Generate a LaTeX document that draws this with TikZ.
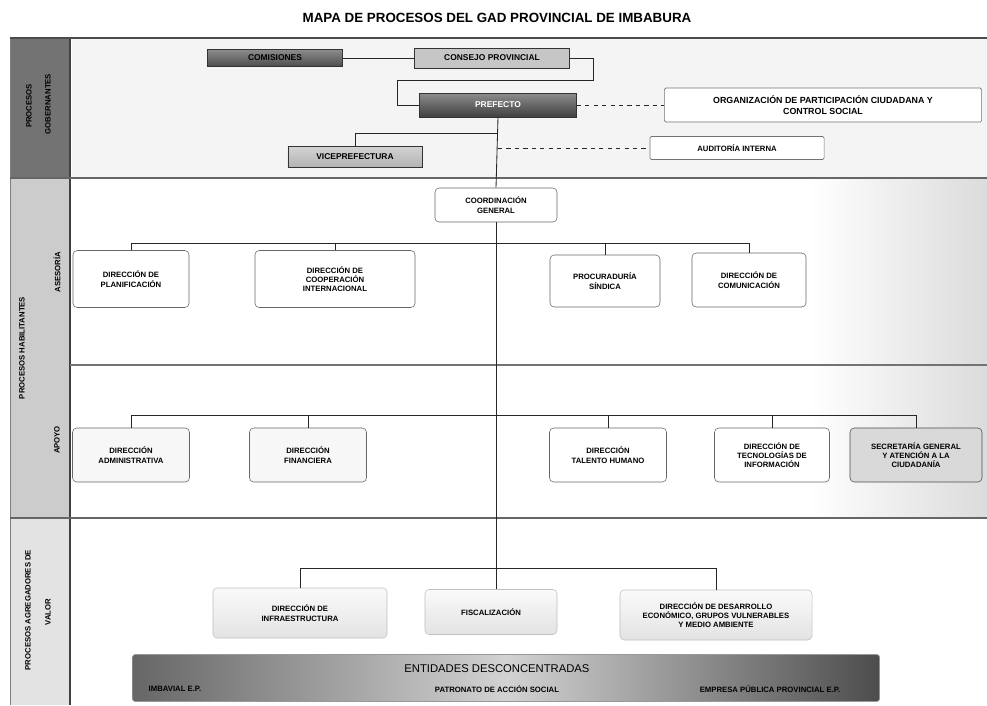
\documentclass[tikz,border=0pt]{standalone}
\usepackage{fontspec}
\setmainfont{Liberation Sans}

\tikzset{
  dirbox/.style={draw=black!60, rounded corners=3pt, fill=white, align=center,
    font=\bfseries\fontsize{5.5}{6.6}\selectfont, inner sep=2pt},
  agrbox/.style={dirbox, draw=black!25, top color=gray!4, bottom color=gray!22},
  govbox/.style={draw=black!80, align=center, font=\bfseries\fontsize{6}{7}\selectfont, inner sep=1pt},
  sidelbl/.style={rotate=90, font=\bfseries\fontsize{5.5}{6.5}\selectfont},
  link/.style={draw=black!85, line width=0.6pt},
}

\begin{document}
\begin{tikzpicture}[x=0.025cm,y=-0.025cm]
\useasboundingbox (0,0) rectangle (987,705);

% fondos
\fill[gray!9] (72,38) rectangle (987,178);
\shade[left color=white,right color=gray!28] (810,178) rectangle (987,518);
\fill[black!55] (10,38) rectangle (70,178);
\fill[gray!40] (10,178) rectangle (70,518);
\fill[gray!22] (10,518) rectangle (70,705);
\draw[line width=1.2pt,black!75] (70,38) -- (70,705);
\draw[black!50] (10,38) -- (10,705);
\draw[line width=1pt,black!70] (10,38) -- (987,38);
\draw[line width=0.8pt,black!60] (10,178) -- (987,178);
\draw[line width=0.8pt,black!55] (70,365) -- (987,365);
\draw[line width=0.8pt,black!60] (10,518) -- (987,518);

\node[font=\bfseries\fontsize{9.5}{11}\selectfont] (titulo) at (497,18) {MAPA DE PROCESOS DEL GAD PROVINCIAL DE IMBABURA};

% etiquetas laterales
\node[sidelbl] (gob1) at (29,106) {PROCESOS};
\node[sidelbl] (gob2) at (48,104) {GOBERNANTES};
\node[sidelbl] (hab) at (22,348) {PROCESOS HABILITANTES};
\node[sidelbl] (ases) at (57,272) {ASESORÍA};
\node[sidelbl] (apoyo) at (57,440) {APOYO};
\node[sidelbl] (agr1) at (28,610) {PROCESOS AGREGADORES DE};
\node[sidelbl] (agr2) at (48,612) {VALOR};

% gobernantes
\node[govbox, top color=black!45, bottom color=black!70, minimum width=3.375cm, minimum height=0.425cm] (comisiones) at (275,58) {COMISIONES};
\node[govbox, fill=gray!45, minimum width=3.875cm, minimum height=0.5cm] (consejo) at (492,58) {CONSEJO PROVINCIAL};
\node[govbox, top color=black!45, bottom color=black!75, text=white, minimum width=3.925cm, minimum height=0.6cm] (prefecto) at (498,105) {PREFECTO};
\node[govbox, top color=gray!35, bottom color=gray!60, minimum width=3.35cm, minimum height=0.525cm] (vice) at (355,157) {VICEPREFECTURA};
\node[dirbox, draw=black!55, rounded corners=1pt, font=\bfseries\fontsize{6.3}{7.4}\selectfont, minimum width=7.925cm, minimum height=0.85cm] (org) at (823,105) {ORGANIZACIÓN DE PARTICIPACIÓN CIUDADANA Y\\CONTROL SOCIAL};
\node[dirbox, draw=black!55, rounded corners=1pt, minimum width=4.35cm, minimum height=0.575cm] (auditoria) at (737,148) {AUDITORÍA INTERNA};

\coordinate (loopR) at (593,80);
\coordinate (loopL) at (397,80);
\coordinate (tv) at (498,133);
\coordinate (ta) at (498,148);
\draw[link] (comisiones) -- (consejo);
\draw[link] (consejo.east) -| (loopR) -- (loopL) |- (prefecto.west);
\draw[link] (tv) -| (vice.north);
\draw[link, dashed] (prefecto.east) -- (org.west);
\draw[link, dashed] (ta) -- (auditoria.west);

% habilitantes
\node[dirbox, minimum width=3.05cm, minimum height=0.85cm] (coord) at (496,205) {COORDINACIÓN\\GENERAL};
\draw[link] (prefecto.south) -- (coord.north);

\node[dirbox, minimum width=2.9cm, minimum height=1.425cm] (planif) at (131,279) {DIRECCIÓN DE\\PLANIFICACIÓN};
\node[dirbox, minimum width=4cm, minimum height=1.425cm] (coop) at (335,279) {DIRECCIÓN DE\\COOPERACIÓN\\INTERNACIONAL};
\node[dirbox, minimum width=2.75cm, minimum height=1.3cm] (procur) at (605,281) {PROCURADURÍA\\SÍNDICA};
\node[dirbox, minimum width=2.85cm, minimum height=1.35cm] (comunic) at (749,280) {DIRECCIÓN DE\\COMUNICACIÓN};
\coordinate (busA) at (498,243);
\draw[link] (planif.north |- busA) -- (comunic.north |- busA);
\foreach \n in {planif,coop,procur,comunic}
  \draw[link] (\n.north) -- (\n.north |- busA);

\node[dirbox, fill=gray!6, minimum width=2.925cm, minimum height=1.35cm] (admin) at (131,455) {DIRECCIÓN\\ADMINISTRATIVA};
\node[dirbox, fill=gray!6, minimum width=2.925cm, minimum height=1.35cm] (financ) at (308,455) {DIRECCIÓN\\FINANCIERA};
\node[dirbox, minimum width=2.925cm, minimum height=1.35cm] (talento) at (608,455) {DIRECCIÓN\\TALENTO HUMANO};
\node[dirbox, minimum width=2.875cm, minimum height=1.35cm] (tecno) at (772,455) {DIRECCIÓN DE\\TECNOLOGÍAS DE\\INFORMACIÓN};
\node[dirbox, fill=gray!30, draw=black!70, minimum width=3.3cm, minimum height=1.35cm] (secret) at (916,455) {SECRETARÍA GENERAL\\Y ATENCIÓN A LA\\CIUDADANÍA};
\coordinate (busB) at (498,415);
\draw[link] (admin.north |- busB) -- (secret.north |- busB);
\foreach \n in {admin,financ,talento,tecno,secret}
  \draw[link] (\n.north) -- (\n.north |- busB);

% agregadores de valor
\node[agrbox, minimum width=4.35cm, minimum height=1.25cm] (infra) at (300,613) {DIRECCIÓN DE\\INFRAESTRUCTURA};
\node[agrbox, minimum width=3.3cm, minimum height=1.125cm] (fiscal) at (491,612) {FISCALIZACIÓN};
\node[agrbox, minimum width=4.8cm, minimum height=1.25cm] (desarr) at (716,615) {DIRECCIÓN DE DESARROLLO\\ECONÓMICO, GRUPOS VULNERABLES\\Y MEDIO AMBIENTE};
\coordinate (busC) at (498,568);
\draw[link] (coord.south) -- (coord.south |- fiscal.north);
\draw[link] (infra.north |- busC) -- (desarr.north |- busC);
\foreach \n in {infra,desarr}
  \draw[link] (\n.north) -- (\n.north |- busC);

\node[draw=black!40, rounded corners=2pt, left color=black!60, right color=black!70, middle color=gray!35,
  minimum width=18.675cm, minimum height=1.175cm] (entidades) at (506,678) {};
\node[font=\fontsize{8}{9}\selectfont] (entTit) at (497,669) {ENTIDADES DESCONCENTRADAS};
\node[font=\bfseries\fontsize{5.5}{6.5}\selectfont] (imbavial) at (175,689) {IMBAVIAL E.P.};
\node[font=\bfseries\fontsize{5.5}{6.5}\selectfont] (patronato) at (497,689) {PATRONATO DE ACCIÓN SOCIAL};
\node[font=\bfseries\fontsize{5.5}{6.5}\selectfont] (empresa) at (770,689) {EMPRESA PÚBLICA PROVINCIAL E.P.};
\end{tikzpicture}
\end{document}
